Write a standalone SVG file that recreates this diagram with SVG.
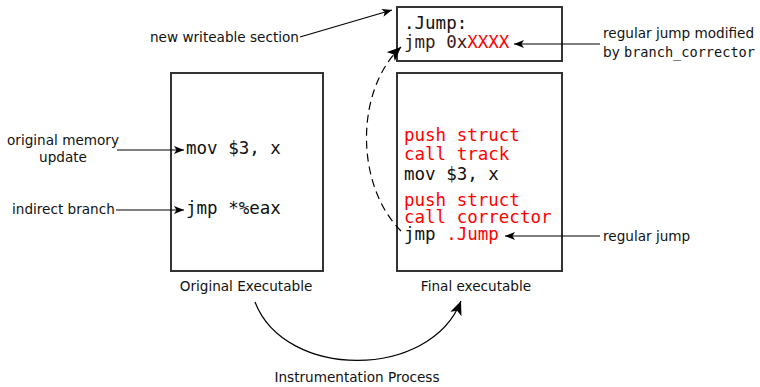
<svg xmlns="http://www.w3.org/2000/svg" width="760" height="387" viewBox="0 0 760 387">
<style>
.box{fill:#fff;stroke:#333;stroke-width:2}
.code{font-family:"DejaVu Sans Mono","Liberation Mono",monospace;font-size:17.5px;fill:#111}
.red{fill:#ff0000}
.dark{fill:#3d1818}
.lbl{font-family:"DejaVu Sans","Liberation Sans",sans-serif;font-size:13.6px;fill:#111}
.mono{font-family:"DejaVu Sans Mono","Liberation Mono",monospace;font-size:13.6px}
.ln{fill:none;stroke:#000;stroke-width:1.2}
</style>
<defs>
<marker id="ah" markerUnits="userSpaceOnUse" markerWidth="12" markerHeight="10" refX="10" refY="4" orient="auto">
<path d="M0,0 L10,4 L0,8 L2.5,4 z" fill="#000"/>
</marker>
<marker id="ahb" markerUnits="userSpaceOnUse" markerWidth="16" markerHeight="14" refX="14" refY="6" orient="auto">
<path d="M0,0 L14,6 L0,12 L3.5,6 z" fill="#000"/>
</marker>
</defs>
<g id="original">
<rect class="box" x="171" y="73" width="152" height="198"/>
<text class="code" x="186" y="154">mov $3, x</text>
<text class="code" x="186" y="214">jmp *%eax</text>
<text class="lbl" x="246" y="291" text-anchor="middle">Original Executable</text>
</g>
<g id="jumpsection">
<rect class="box" x="397" y="7" width="165" height="54"/>
<text class="code" x="404" y="29">.Jump:</text>
<text class="code" x="404" y="48"><tspan class="dark">jmp 0x</tspan><tspan class="red">XXXX</tspan></text>
</g>
<g id="final">
<rect class="box" x="397" y="73" width="165" height="198"/>
<text class="code red" x="404" y="140.5">push struct</text>
<text class="code red" x="404" y="159.5">call track</text>
<text class="code" x="404" y="179.5">mov $3, x</text>
<text class="code red" x="404" y="205.5">push struct</text>
<text class="code red" x="404" y="223">call corrector</text>
<text class="code" x="404" y="240">jmp <tspan class="red">.Jump</tspan></text>
<text class="lbl" x="476" y="291" text-anchor="middle">Final executable</text>
</g>
<g id="labels">
<text class="lbl" x="63" y="145" text-anchor="middle">original memory</text>
<text class="lbl" x="63" y="162" text-anchor="middle">update</text>
<text class="lbl" x="12" y="214">indirect branch</text>
<text class="lbl" x="150" y="42">new writeable section</text>
<text class="lbl" x="603" y="38">regular jump modified</text>
<text class="lbl" x="603" y="57">by <tspan class="mono">branch_corrector</tspan></text>
<text class="lbl" x="603" y="241">regular jump</text>
<text class="lbl" x="357" y="382" text-anchor="middle">Instrumentation Process</text>
</g>
<g id="connectors">
<line class="ln" x1="117" y1="150" x2="184" y2="150" marker-end="url(#ah)"/>
<line class="ln" x1="116" y1="210" x2="184" y2="210" marker-end="url(#ah)"/>
<line class="ln" x1="300" y1="37" x2="392" y2="10" marker-end="url(#ah)"/>
<line class="ln" x1="600" y1="44" x2="514" y2="44" marker-end="url(#ah)"/>
<line class="ln" x1="600" y1="236" x2="505" y2="236" marker-end="url(#ah)"/>
<path class="ln" d="M401 231 C355 185 355 90 401 47" stroke-dasharray="8 5" marker-end="url(#ahb)"/>
<path class="ln" d="M255 302 C285 380 430 380 461 301" marker-end="url(#ahb)"/>
</g>
</svg>
